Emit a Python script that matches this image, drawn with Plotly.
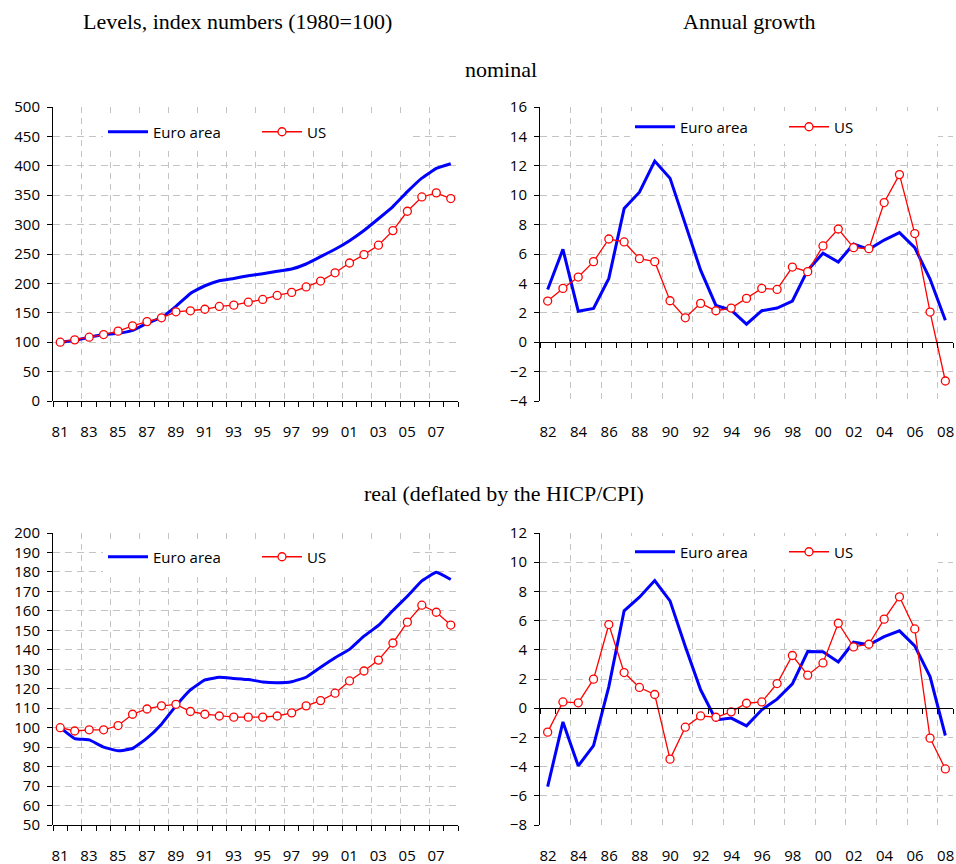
import plotly.graph_objects as go

# ---- data -------------------------------------------------------------
level_years = ["81", "82", "83", "84", "85", "86", "87", "88", "89", "90",
               "91", "92", "93", "94", "95", "96", "97", "98", "99", "00",
               "01", "02", "03", "04", "05", "06", "07", "08"]
growth_years = level_years[1:]

# nominal levels, index (1980=100)
lvl_nom_ea = [100, 103, 108.5, 113, 115, 120, 132, 142, 161, 183, 196, 204.5,
              208.5, 213, 216.5, 220.5, 224.4, 233, 245.5, 258, 272.7, 290,
              310, 330.7, 356, 379, 395.5, 403.4]
lvl_nom_us = [100, 104, 108.5, 113, 118.8, 127.8, 135, 141.5, 151.7, 153.4,
              156, 160.8, 163, 168, 172.7, 179.5, 184.7, 194, 204, 218, 234.7,
              248.9, 265, 289.8, 322.7, 347, 354, 344.3]

# nominal annual growth, %
gr_nom_ea = [3.59, 6.32, 2.11, 2.3, 4.34, 9.09, 10.2, 12.32, 11.16, 8.0, 4.9,
             2.5, 2.18, 1.23, 2.14, 2.32, 2.8, 4.9, 6.05, 5.45, 6.68, 6.32,
             6.95, 7.45, 6.43, 4.3, 1.5]
gr_nom_us = [2.8, 3.66, 4.43, 5.48, 7.02, 6.82, 5.68, 5.48, 2.82, 1.66, 2.64,
             2.14, 2.32, 2.98, 3.66, 3.59, 5.11, 4.8, 6.55, 7.7, 6.43, 6.36,
             9.5, 11.4, 7.39, 2.05, -2.64]

# real levels, index (1980=100)
lvl_real_ea = [100, 94.4, 93.7, 90, 88.1, 89.3, 94.6, 101.8, 111.2, 119.4,
               124.5, 125.9, 125.3, 124.7, 123.5, 123.1, 123.6, 125.9, 131,
               135.9, 140.2, 147, 152.5, 160.2, 167.5, 175.4, 179.8, 176.1]
lvl_real_us = [100, 98.3, 98.9, 98.9, 101.1, 106.9, 109.6, 111.2, 112, 108.3,
               106.9, 106, 105.4, 105.4, 105.4, 106, 107.6, 111.2, 113.9,
               117.7, 124, 129.1, 134.7, 143.5, 154.2, 162.9, 159.3, 152.7]

# real annual growth, %
gr_real_ea = [-5.37, -0.94, -3.95, -2.56, 1.48, 6.67, 7.6, 8.74, 7.35, 4.22,
              1.26, -0.8, -0.68, -1.21, -0.11, 0.62, 1.67, 3.88, 3.86, 3.17,
              4.52, 4.34, 4.9, 5.3, 4.27, 2.17, -1.87]
gr_real_us = [-1.64, 0.43, 0.37, 1.99, 5.73, 2.44, 1.42, 0.94, -3.49, -1.3,
              -0.53, -0.62, -0.25, 0.34, 0.43, 1.69, 3.61, 2.26, 3.1, 5.82,
              4.2, 4.38, 6.1, 7.63, 5.43, -2.05, -4.16]

# ---- layout helpers -----------------------------------------------------
W, H = 956, 864
SANS = "Open Sans"
SERIF = "Liberation Serif"
BLUE = "#0000ff"
RED = "#ff0000"
GRID = "#c4c4c4"
LABEL_GAP = 12          # px between tick marks and year labels


def px_x(a, b):
    return [a / W, b / W]


def px_y(top, bottom):
    return [1 - bottom / H, 1 - top / H]


panels = [
    dict(ea=lvl_nom_ea, us=lvl_nom_us, years=level_years, yr=[0, 500], dt=50,
         xd=px_x(53, 458), yd=px_y(107, 401), leg=(103, 132), smooth=True),
    dict(ea=gr_nom_ea, us=gr_nom_us, years=growth_years, yr=[-4, 16], dt=2,
         xd=px_x(540, 953), yd=px_y(107, 401), leg=(630, 127), smooth=False),
    dict(ea=lvl_real_ea, us=lvl_real_us, years=level_years, yr=[50, 200], dt=10,
         xd=px_x(53, 458), yd=px_y(533, 825), leg=(103, 557), smooth=True),
    dict(ea=gr_real_ea, us=gr_real_us, years=growth_years, yr=[-8, 12], dt=2,
         xd=px_x(540, 953), yd=px_y(533, 825), leg=(630, 552), smooth=False),
]

fig = go.Figure()
layout = {}

for i, p in enumerate(panels, start=1):
    n = len(p["years"])
    idx = list(range(n))
    s = "" if i == 1 else str(i)
    leg_name = "legend" if i == 1 else f"legend{i}"

    fig.add_trace(go.Scatter(
        x=idx, y=p["ea"], name="Euro area", mode="lines",
        line=dict(color=BLUE, width=3,
                  shape="spline" if p["smooth"] else "linear", smoothing=0.3),
        xaxis=f"x{s}", yaxis=f"y{s}", legend=leg_name, hoverinfo="skip"))
    fig.add_trace(go.Scatter(
        x=idx, y=p["us"], name="US", mode="lines+markers",
        line=dict(color=RED, width=1.3),
        marker=dict(symbol="circle", size=8, color="white",
                    line=dict(color=RED, width=1.3)),
        xaxis=f"x{s}", yaxis=f"y{s}", legend=leg_name, hoverinfo="skip"))

    # category axis: tick marks on every category boundary, dashed grid on
    # every second one, year labels centred on every second category
    y0, y1 = p["yr"]
    cross = 0 if y0 < 0 else y0
    frac = (cross - y0) / (y1 - y0)
    pos = p["yd"][0] + frac * (p["yd"][1] - p["yd"][0])
    drop = frac * (p["yd"][1] - p["yd"][0]) * H  # px from axis line to plot bottom
    cat_px = (p["xd"][1] - p["xd"][0]) * W / n

    bounds = [k - 0.5 for k in range(n + 1)]
    major = bounds[::2]
    labels = p["years"][::2]
    labels = labels + [""] * (len(major) - len(labels))

    layout[f"xaxis{s}"] = dict(
        domain=p["xd"], anchor="free", position=pos, range=[-0.5, n - 0.5],
        tickmode="array", tickvals=major, ticktext=labels,
        ticklabelshift=int(round(cat_px / 2)),
        ticklabelstandoff=int(round(LABEL_GAP + drop)),
        tickfont=dict(family=SANS, size=15, color="black"),
        ticks="outside", ticklen=5, tickcolor="black", tickwidth=1,
        showline=True, linecolor="black", linewidth=1,
        showgrid=True, gridcolor=GRID, gridwidth=1, griddash="6px,5px",
        zeroline=False,
        minor=dict(tickvals=bounds, ticks="outside", ticklen=5,
                   tickcolor="black", tickwidth=1, showgrid=False))

    layout[f"yaxis{s}"] = dict(
        domain=p["yd"], anchor=f"x{s}", range=p["yr"], dtick=p["dt"],
        tick0=y0, showline=True, linecolor="black", linewidth=1,
        ticks="outside", ticklen=5, tickcolor="black",
        showgrid=True, gridcolor=GRID, gridwidth=1, griddash="7px,5px",
        zeroline=False, ticklabelstandoff=4,
        tickfont=dict(family=SANS, size=15, color="black"))

    lx, ly = p["leg"]
    layout[leg_name] = dict(
        orientation="h", x=lx / W, y=1 - ly / H, xanchor="left",
        yanchor="middle", bgcolor="white",
        font=dict(family=SANS, size=15, color="black"),
        itemwidth=40, entrywidth=99, traceorder="normal")

titles = [
    ("Levels, index numbers (1980=100)", 237, 21),
    ("Annual growth", 749, 21),
    ("nominal", 501, 70),
    ("real (deflated by the HICP/CPI)", 504, 493),
]
annotations = [
    dict(text=t, x=x / W, y=1 - y / H, xref="paper", yref="paper",
         xanchor="center", yanchor="middle", showarrow=False,
         font=dict(family=SERIF, size=22, color="black"))
    for t, x, y in titles
]

fig.update_layout(
    width=W, height=H,
    margin=dict(l=0, r=0, t=0, b=0, autoexpand=False),
    paper_bgcolor="white", plot_bgcolor="white",
    annotations=annotations, **layout)

fig.write_html("out.html")
